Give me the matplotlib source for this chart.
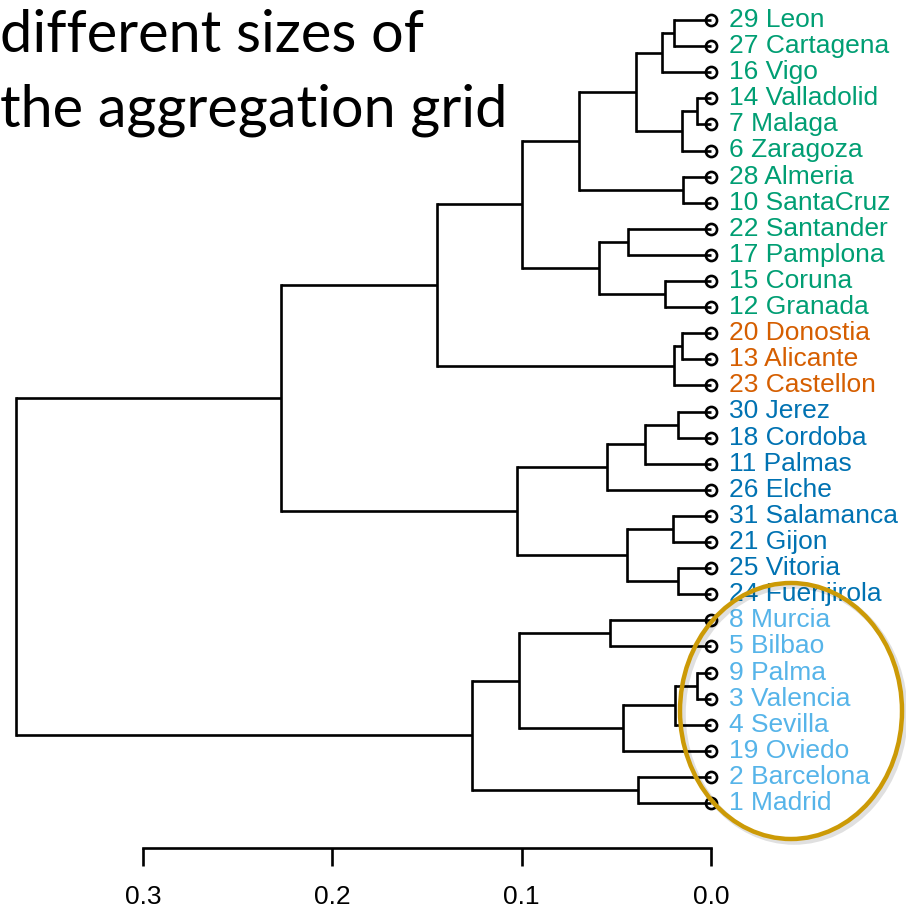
import matplotlib.pyplot as plt
from matplotlib.patches import Ellipse

# leaf labels, top to bottom
labels = ["29 Leon", "27 Cartagena", "16 Vigo", "14 Valladolid", "7 Malaga",
          "6 Zaragoza", "28 Almeria", "10 SantaCruz", "22 Santander",
          "17 Pamplona", "15 Coruna", "12 Granada", "20 Donostia",
          "13 Alicante", "23 Castellon", "30 Jerez", "18 Cordoba", "11 Palmas",
          "26 Elche", "31 Salamanca", "21 Gijon", "25 Vitoria", "24 Fuenjirola",
          "8 Murcia", "5 Bilbao", "9 Palma", "3 Valencia", "4 Sevilla",
          "19 Oviedo", "2 Barcelona", "1 Madrid"]

# cluster of each leaf
groups = [0] * 12 + [1] * 3 + [2] * 8 + [3] * 8
group_colors = ["#009E73", "#D55E00", "#0072B2", "#56B4E9"]

# merges: (child a, child b, height); leaves are 0..30, merge k is 31+k
merges = [
    (0, 1, 0.0196), (31, 2, 0.026), (3, 4, 0.0074), (33, 5, 0.0153),
    (32, 34, 0.0396), (6, 7, 0.0148), (35, 36, 0.0697), (8, 9, 0.0438),
    (10, 11, 0.0243), (38, 39, 0.0592), (37, 40, 0.0998), (12, 13, 0.0153),
    (42, 14, 0.0196), (41, 43, 0.1447), (15, 16, 0.0174), (45, 17, 0.0349),
    (46, 18, 0.055), (19, 20, 0.0200), (21, 22, 0.0174), (48, 49, 0.0444),
    (47, 50, 0.1025), (44, 51, 0.227), (23, 24, 0.0534), (25, 26, 0.0074),
    (54, 27, 0.019), (55, 28, 0.0465), (53, 56, 0.1014), (29, 30, 0.0386),
    (57, 58, 0.1263), (52, 59, 0.367),
]

ticks = [0.0, 0.1, 0.2, 0.3]
title_lines = ["different sizes of", "the aggregation grid"]

n = len(labels)
fig = plt.figure(figsize=(9.06, 9.10), dpi=100)
ax = fig.add_axes([0, 62 / 910, 1, 848 / 910])

# node positions
ypos = {i: float(i) for i in range(n)}
xpos = {i: 0.0 for i in range(n)}
lw = 1.9
for k, (a, b, h) in enumerate(merges):
    node = n + k
    ya, yb = ypos[a], ypos[b]
    ax.plot([h, h], [ya, yb], color="black", lw=lw, solid_capstyle="projecting")
    ax.plot([h, xpos[a]], [ya, ya], color="black", lw=lw, solid_capstyle="butt")
    ax.plot([h, xpos[b]], [yb, yb], color="black", lw=lw, solid_capstyle="butt")
    ypos[node] = (ya + yb) / 2
    xpos[node] = h

# leaf markers and labels
ax.plot([0] * n, list(range(n)), "o", ms=8, mfc="none", mec="black", mew=1.9,
        zorder=3)
for i, lab in enumerate(labels):
    ax.text(-0.0095, i, lab, color=group_colors[groups[i]], fontsize=19,
            family="Liberation Sans", ha="left", va="center")

ax.set_xlim(0.3755, -0.103)
ax.set_ylim((848 - 20) / 26.1, -20 / 26.1)
for s in ["left", "right", "top"]:
    ax.spines[s].set_visible(False)
ax.spines["bottom"].set_bounds(0, 0.3)
ax.spines["bottom"].set_linewidth(lw)
ax.set_yticks([])
ax.set_xticks(ticks)
ax.set_xticklabels([f"{t:.1f}" for t in ticks], fontsize=19, family="Liberation Sans")
ax.tick_params(axis="x", length=13, width=lw, pad=14)

# highlight ellipse with soft shadow
shadow = Ellipse((794 / 906, 1 - 714 / 910), 222 / 906, 256 / 910,
                 transform=fig.transFigure, fill=False, ec="#000000", alpha=0.12,
                 lw=4, zorder=4)
fig.add_artist(shadow)
ell = Ellipse((791 / 906, 1 - 711 / 910), 222 / 906, 256 / 910,
              transform=fig.transFigure, fill=False, ec="#CC9A06", lw=3.2,
              zorder=5)
fig.add_artist(ell)

# slide title, partly cut off on the left
fig.text(0.0, 1 - 36 / 910, title_lines[0], fontsize=41.5, family="Lato",
         ha="left", va="center")
fig.text(0.0, 1 - 110 / 910, title_lines[1], fontsize=41.5, family="Lato",
         ha="left", va="center")

fig.savefig("out.png", dpi=100)
